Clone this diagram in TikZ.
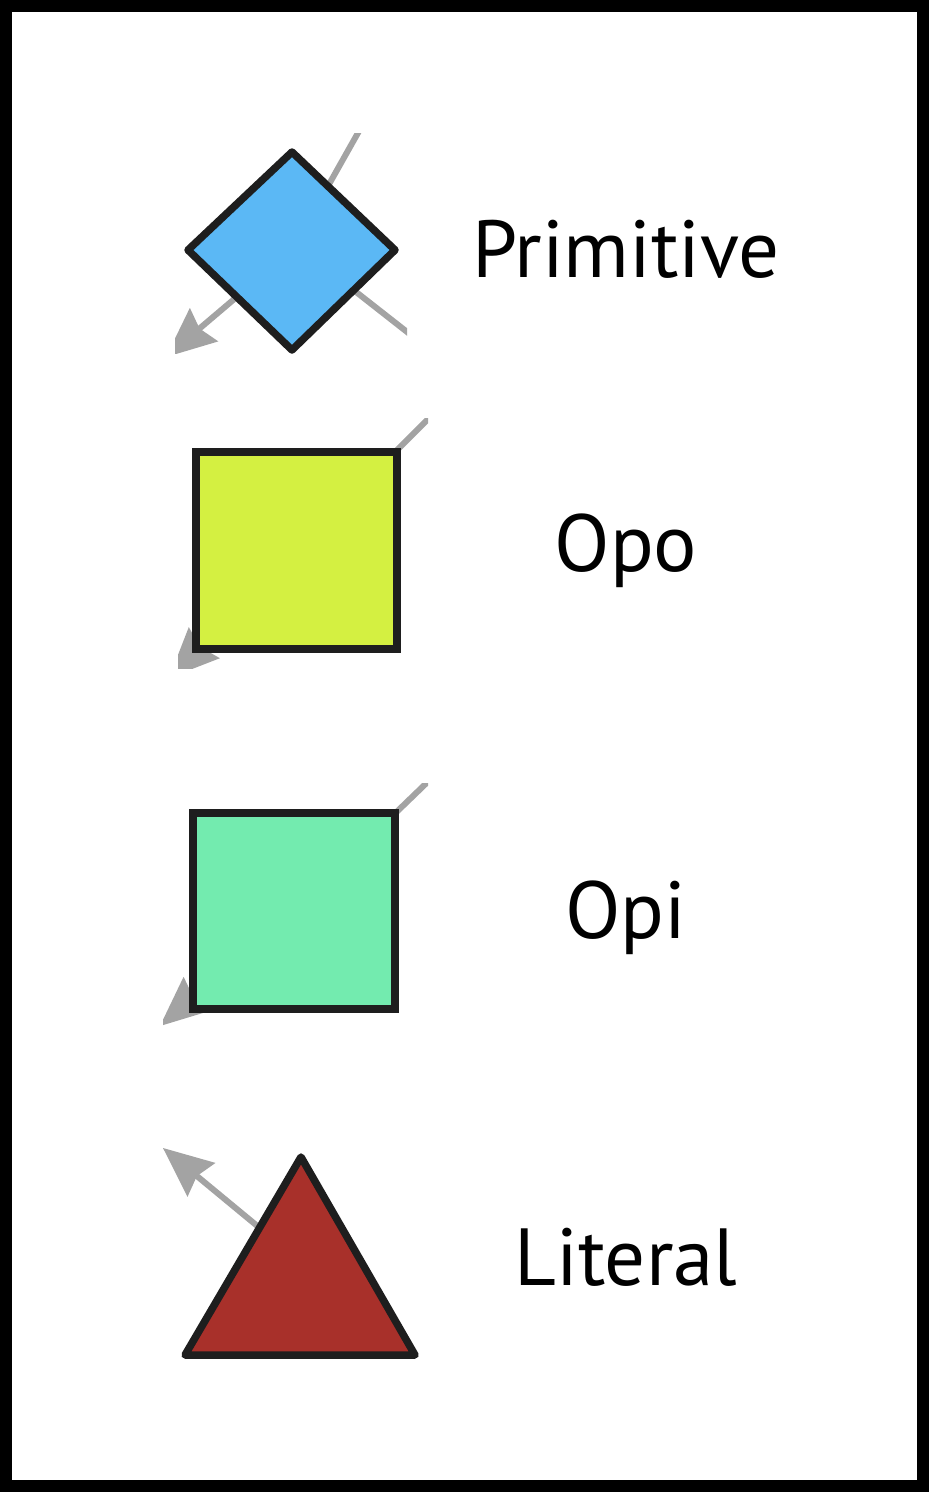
\documentclass[tikz,border=0pt]{standalone}
\usepackage{fontspec}
\setmainfont{PT Sans}
\usetikzlibrary{calc}
\definecolor{primblue}{HTML}{5BB8F5}
\definecolor{opoyellow}{HTML}{D4F041}
\definecolor{opigreen}{HTML}{73EBAF}
\definecolor{litred}{HTML}{A8302A}
\definecolor{edgegray}{HTML}{A3A3A3}
\definecolor{outline}{HTML}{1E1E1E}
\tikzset{
  stub/.style={draw=edgegray, line width=6pt},
  shapeline/.style={draw=outline, line width=7.5pt},
  lbl/.style={font=\fontsize{81}{97}\selectfont, anchor=base, inner sep=0pt},
}
% gray arrow head at the end of a stub: #1 start, #2 tip
\newcommand\grayhead[2]{%
  \path ($(#2)!50pt!(#1)$) coordinate (hb) ($(#2)!44pt!(#1)$) coordinate (hn);
  \fill[edgegray] (#2) -- ($(hb)!22pt!90:(#2)$) -- (hn) -- ($(hb)!22pt!-90:(#2)$) -- cycle;
}
\begin{document}
\begin{tikzpicture}[x=1pt,y=-1pt]
\useasboundingbox (0,0) rectangle (931,1492);
\draw[line width=12pt] (6,6) rectangle (923,1486);

% ---------- Primitive ----------
\coordinate (pc) at (292,250);
\coordinate (pa) at (372,108);
\coordinate (pb) at (166,357);
\coordinate (pd0) at (300,248);
\coordinate (pd) at (425,346);
\begin{scope}
  \clip (175,133) rectangle (407,353);
  \draw[stub] (pc) -- (pa);
  \draw[stub] (pc) -- ($(pb)!40pt!(pc)$);
  \grayhead{pc}{pb}
  \draw[stub] (pd0) -- (pd);
\end{scope}
\draw[shapeline, fill=primblue, line join=round] (292,152) -- (395,250) -- (292,350) -- (188,250) -- cycle;
\node[lbl] (tprim) at (626,277) {Primitive};

% ---------- Opo ----------
\coordinate (oc) at (296,551);
\coordinate (oa) at (445,402);
\coordinate (ob) at (169,678);
\begin{scope}
  \clip (178,418) rectangle (428,668);
  \draw[stub] (oc) -- (oa);
  \draw[stub] (oc) -- ($(ob)!40pt!(oc)$);
  \grayhead{oc}{ob}
\end{scope}
\draw[shapeline, fill=opoyellow] (196,452) rectangle (397,649);
\node[lbl] (topo) at (626,571) {Opo};

% ---------- Opi ----------
\coordinate (ic) at (294,911);
\coordinate (ia) at (440,770);
\coordinate (ib) at (160,1026);
\begin{scope}
  \clip (163,783) rectangle (428,1028);
  \draw[stub] (ic) -- (ia);
  \draw[stub] (ic) -- ($(ib)!40pt!(ic)$);
  \grayhead{ic}{ib}
\end{scope}
\draw[shapeline, fill=opigreen] (193,813) rectangle (395,1009);
\node[lbl] (topi) at (626,938) {Opi};

% ---------- Literal ----------
\coordinate (lc) at (290,1253);
\coordinate (lb) at (163,1148);
\begin{scope}
  \clip (163,1145) rectangle (428,1362);
  \draw[stub] (lc) -- ($(lb)!40pt!(lc)$);
  \grayhead{lc}{lb}
\end{scope}
\draw[shapeline, fill=litred, line join=round] (301,1157) -- (415,1355) -- (185,1355) -- cycle;
\node[lbl] (tlit) at (626,1285) {Literal};
\end{tikzpicture}
\end{document}
